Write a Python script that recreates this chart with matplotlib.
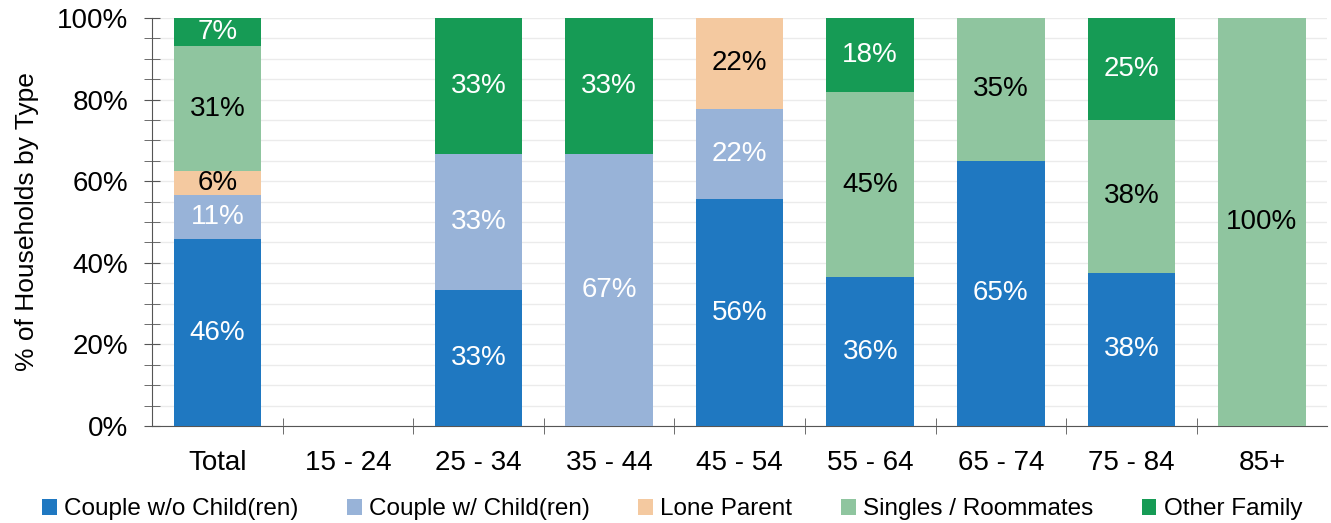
import matplotlib
matplotlib.use("Agg")
import matplotlib.pyplot as plt
import numpy as np
from matplotlib.ticker import MultipleLocator, FuncFormatter, FixedLocator

plt.rcParams['font.family'] = ['Liberation Sans', 'DejaVu Sans']

categories = ["Total", "15 - 24", "25 - 34", "35 - 44", "45 - 54",
              "55 - 64", "65 - 74", "75 - 84", "85+"]
series = ["Couple w/o Child(ren)", "Couple w/ Child(ren)", "Lone Parent",
          "Singles / Roommates", "Other Family"]

couple_no_kids = [45.8, 0, 33.3, 0, 55.6, 36.4, 65.0, 37.5, 0]
couple_kids = [10.9, 0, 33.3, 66.7, 22.2, 0, 0, 0, 0]
lone_parent = [5.8, 0, 0, 0, 22.2, 0, 0, 0, 0]
singles = [30.6, 0, 0, 0, 0, 45.4, 35.0, 37.5, 100.0]
other_family = [7.0, 0, 33.3, 33.3, 0, 18.2, 0, 25.0, 0]

colors = ["#1f78c1", "#98b3d8", "#f4c9a0", "#8fc59f", "#169b55"]
label_colors = ["white", "white", "black", "black", "white"]

data = [couple_no_kids, couple_kids, lone_parent, singles, other_family]

fig = plt.figure(figsize=(13.31, 5.23), dpi=100)
ax = fig.add_axes([0.1142, 0.1855, 0.8830, 0.7801])

x = np.arange(len(categories))
bottom = np.zeros(len(categories))
for vals, name, c, lc in zip(data, series, colors, label_colors):
    vals = np.array(vals, dtype=float)
    ax.bar(x, vals, 0.67, bottom=bottom, color=c, label=name, zorder=3)
    for xi, v, b in zip(x, vals, bottom):
        if v > 0:
            ax.text(xi, b + v / 2, f"{round(v):d}%", ha="center", va="center",
                    color=lc, fontsize=20, zorder=4)
    bottom += vals

ax.set_xlim(-0.5, len(categories) - 0.5)
ax.set_ylim(0, 100)
ax.yaxis.set_major_locator(MultipleLocator(20))
ax.yaxis.set_minor_locator(MultipleLocator(5))
ax.yaxis.set_major_formatter(FuncFormatter(lambda v, p: f"{v:.0f}%"))
ax.set_xticks(x)
ax.set_xticklabels(categories)
ax.xaxis.set_minor_locator(FixedLocator(np.arange(0.5, len(categories) - 0.5, 1)))
ax.tick_params(axis="x", which="major", length=0, pad=17, labelsize=20)
ax.tick_params(axis="x", which="minor", direction="inout", length=12, color="#555555")
ax.tick_params(axis="y", which="both", direction="inout", length=12, color="#555555",
               labelsize=20, pad=11)
ax.grid(axis="y", which="both", color="#ebebeb", linewidth=1, zorder=0)
ax.set_axisbelow(True)
for s in ["top", "right"]:
    ax.spines[s].set_visible(False)
for s in ["left", "bottom"]:
    ax.spines[s].set_color("#555555")
ax.set_ylabel("% of Households by Type", fontsize=19, labelpad=13)

fig.legend(loc="lower center", bbox_to_anchor=(0.505, -0.037), ncol=5, frameon=False,
           fontsize=17.5, handlelength=0.6, handleheight=0.6, handletextpad=0.3,
           columnspacing=2.0)

fig.savefig("out.png", dpi=100)
